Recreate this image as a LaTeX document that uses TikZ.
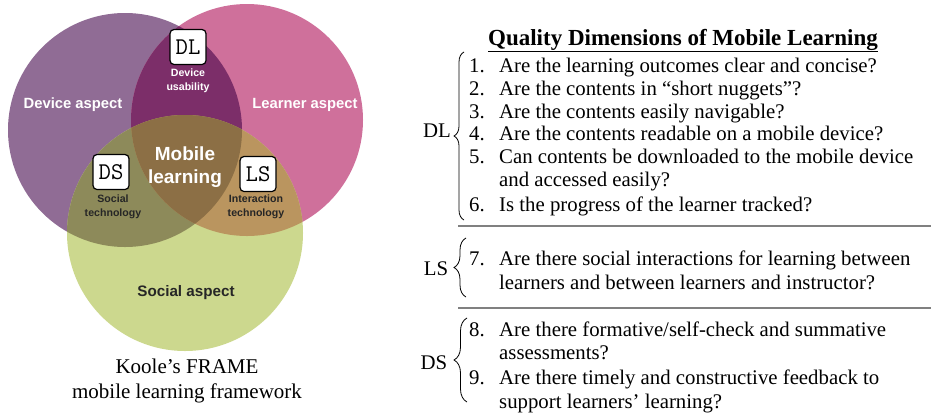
\documentclass[tikz,border=0pt]{standalone}
\usepackage{fontspec}
\setmainfont{Liberation Serif}
\setsansfont{Liberation Sans}
\usetikzlibrary{decorations.pathreplacing}

\definecolor{devcol}{HTML}{906C95}
\definecolor{lrncol}{HTML}{CF709B}
\definecolor{soccol}{HTML}{CCD88E}
\definecolor{dlcol}{HTML}{7C2E69}
\definecolor{dscol}{HTML}{8D8A5A}
\definecolor{lscol}{HTML}{BA955F}
\definecolor{midcol}{HTML}{8C6F45}

\begin{document}
\begin{tikzpicture}[x=1pt,y=-1pt,
  aspect/.style={font=\fontsize{14.8}{17}\selectfont\sffamily\bfseries,text=white},
  small/.style={font=\fontsize{10.6}{13.5}\selectfont\sffamily\bfseries,align=center,inner sep=0pt},
  tag/.style={draw=black,fill=white,rounded corners=4pt,line width=1.2pt,minimum width=36,minimum height=35,inner sep=0pt,font=\fontsize{24}{24}\selectfont\ttfamily},
  item/.style={anchor=base west,inner sep=0pt,font=\fontsize{20.8}{23}\selectfont},
  dim/.style={inner sep=0pt,font=\fontsize{20.8}{23}\selectfont},
  sep/.style={draw=black!50,line width=2.4pt},
  bracket/.style={decorate,decoration={brace,amplitude=#1},line width=0.8pt}]

\useasboundingbox (0,0) rectangle (931,413);

% the three aspects
\fill[devcol] (125,130) circle (117);
\fill[lrncol] (247,120) circle (116);
\fill[soccol] (185,233) circle (118);
\begin{scope}
\clip (125,130) circle (117);
\fill[dlcol] (247,120) circle (116);
\fill[dscol] (185,233) circle (118);
\end{scope}
\begin{scope}
\clip (247,120) circle (116);
\fill[lscol] (185,233) circle (118);
\end{scope}
\begin{scope}
\clip (125,130) circle (117);
\clip (247,120) circle (116);
\fill[midcol] (185,233) circle (118);
\end{scope}

\node[aspect] (dev) at (73,105) {Device aspect};
\node[aspect] (lrn) at (305,105) {Learner aspect};
\node[aspect,text=black!85,font=\fontsize{15.2}{17}\selectfont\sffamily\bfseries] (soc) at (186,293) {Social aspect};
\node[aspect,align=center,font=\fontsize{19}{23}\selectfont\sffamily\bfseries] (mob) at (185,167) {Mobile\\learning};

\node[tag] (DL) at (188,47) {DL};
\node[small,text=white] (use) at (188,81) {Device\\usability};
\node[tag] (DS) at (111,172) {DS};
\node[small,text=black!85] (stech) at (113,207) {Social\\technology};
\node[tag] (LS) at (258,174) {LS};
\node[small,text=black!85] (itech) at (256,207) {Interaction\\technology};

\node[align=center,font=\fontsize{21}{25}\selectfont] (cap) at (187,381) {Koole’s FRAME\\mobile learning framework};

% quality dimensions
\node[anchor=base,inner sep=0pt,font=\fontsize{23}{25}\selectfont\bfseries] (title) at (683,45) {\underline{Quality Dimensions of Mobile Learning}};

\node[item] (n1) at (469,72) {1.};
\node[item] (q1) at (499,72) {Are the learning outcomes clear and concise?};
\node[item] (n2) at (469,95) {2.};
\node[item] (q2) at (499,95) {Are the contents in “short nuggets”?};
\node[item] (n3) at (469,118) {3.};
\node[item] (q3) at (499,118) {Are the contents easily navigable?};
\node[item] (n4) at (469,140) {4.};
\node[item] (q4) at (499,140) {Are the contents readable on a mobile device?};
\node[item] (n5) at (469,163) {5.};
\node[item] (q5) at (499,163) {Can contents be downloaded to the mobile device};
\node[item] (q5b) at (499,186) {and accessed easily?};
\node[item] (n6) at (469,211) {6.};
\node[item] (q6) at (499,211) {Is the progress of the learner tracked?};

\node[item] (n7) at (469,265) {7.};
\node[item] (q7) at (499,265) {Are there social interactions for learning between};
\node[item] (q7b) at (499,289) {learners and between learners and instructor?};

\node[item] (n8) at (469,336) {8.};
\node[item] (q8) at (499,336) {Are there formative/self-check and summative};
\node[item] (q8b) at (499,359) {assessments?};
\node[item] (n9) at (469,384) {9.};
\node[item] (q9) at (499,384) {Are there timely and constructive feedback to};
\node[item] (q9b) at (499,408) {support learners’ learning?};

\node[dim] (dl) at (437,131) {DL};
\node[dim] (ls) at (436,269) {LS};
\node[dim] (ds) at (434,363) {DS};

\coordinate (dlbot) at (464,220);
\coordinate (dltop) at (464,52);
\coordinate (lsbot) at (466,297);
\coordinate (lstop) at (466,238);
\coordinate (dsbot) at (467,402);
\coordinate (dstop) at (467,318);
\draw[bracket=10pt] (dlbot) -- (dltop);
\draw[bracket=12pt] (lsbot) -- (lstop);
\draw[bracket=13pt] (dsbot) -- (dstop);

\coordinate (s1a) at (458,226);
\coordinate (s1b) at (931,226);
\coordinate (s2a) at (458,308);
\coordinate (s2b) at (931,308);
\draw[sep] (s1a) -- (s1b);
\draw[sep] (s2a) -- (s2b);

\end{tikzpicture}
\end{document}
